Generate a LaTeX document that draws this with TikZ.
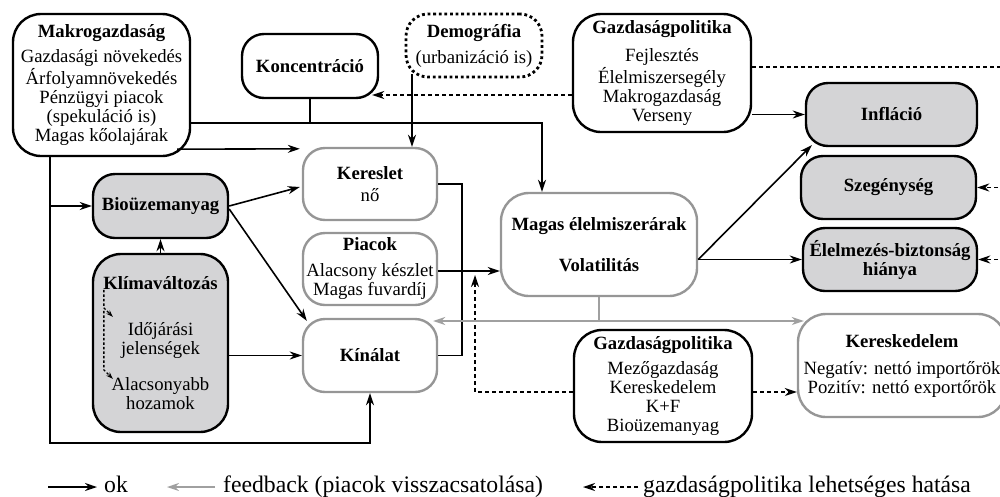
\documentclass[tikz,border=0pt]{standalone}
\usepackage{fontspec}
\setmainfont{Liberation Serif}
\usetikzlibrary{arrows.meta,calc}
\definecolor{fillgray}{RGB}{212,212,214}
\definecolor{bordergray}{RGB}{150,150,150}
\definecolor{linegray}{RGB}{160,160,160}
\newcommand{\fsbox}{\fontsize{18.7}{19}\selectfont}
\newcommand{\fsleg}{\fontsize{23.7}{26}\selectfont}
\tikzset{
 box/.style={line width=2.4pt, rounded corners=22pt, align=center, inner sep=0pt, font=\fsbox},
 bbox/.style={box, draw=black},
 gbox/.style={box, draw=bordergray},
 fbox/.style={box, draw=black, fill=fillgray},
 dbox/.style={box, draw=black, line width=2.8pt, dash pattern=on 2.8pt off 2.8pt},
 conn/.style={line width=1.6pt},
 arr/.style={conn, -{Stealth[length=12pt,width=8pt]}},
 dline/.style={conn, dash pattern=on 4pt off 3pt},
 darr/.style={dline, -{Stealth[length=12pt,width=8pt]}},
 sdarr/.style={line width=1.4pt, dash pattern=on 2.5pt off 2pt, -{Stealth[length=7pt,width=5pt]}},
 gline/.style={line width=1.6pt, draw=linegray},
 garr/.style={gline, -{Stealth[length=12pt,width=8pt]}},
 legend/.style={inner sep=0pt, font=\fsleg},
}
\begin{document}
\begin{tikzpicture}[x=1pt,y=-1pt]
\useasboundingbox (0,0) rectangle (1000,496);
\clip (0,0) rectangle (1000,496);

% nodes
\node[bbox, rounded corners=28pt, minimum width=177pt, minimum height=142pt] (makro) at (101.5,85)
 {\textbf{Makrogazdaság}\\[6pt]Gazdasági növekedés\\Árfolyamnövekedés\\Pénzügyi piacok\\(spekuláció is)\\Magas kőolajárak};
\node[bbox, minimum width=136pt, minimum height=64pt] (konc) at (310,66) {\textbf{Koncentráció}};
\node[dbox, minimum width=136pt, minimum height=63pt] (demo) at (474,45.5) {\textbf{Demográfia}\\[7pt](urbanizáció is)};
\node[bbox, rounded corners=28pt, minimum width=178pt, minimum height=118pt] (gp1) at (662,73)
 {\textbf{Gazdaságpolitika}\\[9pt]Fejlesztés\\Élelmiszersegély\\Makrogazdaság\\Verseny};
\node[fbox, minimum width=171pt, minimum height=63pt] (infl) at (891.5,114.5) {\textbf{Infláció}};
\node[fbox, minimum width=175pt, minimum height=63pt] (szeg) at (888.5,187.5) {\textbf{Szegénység}};
\node[fbox, minimum width=174pt, minimum height=63pt] (elel) at (890,259.5) {\textbf{Élelmezés-biztonság}\\\textbf{hiánya}};
\node[gbox, minimum width=134pt, minimum height=72pt] (keres) at (370,184) {\textbf{Kereslet}\\[3pt]nő};
\node[gbox, minimum width=134pt, minimum height=72pt] (piac) at (370,269) {\textbf{Piacok}\\[7pt]Alacsony készlet\\Magas fuvardíj};
\node[gbox, minimum width=134pt, minimum height=73pt] (kinal) at (370,355.5) {\textbf{Kínálat}};
\node[gbox, rounded corners=28pt, minimum width=196pt, minimum height=103pt] (magas) at (599,244.5) {\textbf{Magas élelmiszerárak}\\[22pt]\textbf{Volatilitás}};
\node[fbox, minimum width=135pt, minimum height=64pt] (bio) at (160.5,206) {\textbf{Bioüzemanyag}};
\node[fbox, rounded corners=28pt, minimum width=135pt, minimum height=178pt] (klima) at (160.5,343)
 {\textbf{Klímaváltozás}\\[27pt]Időjárási\\jelenségek\\[17pt]Alacsonyabb\\hozamok};
\node[bbox, rounded corners=28pt, minimum width=178pt, minimum height=112pt] (gp2) at (663,386)
 {\textbf{Gazdaságpolitika}\\[6pt]Mezőgazdaság\\Kereskedelem\\K+F\\Bioüzemanyag};
\node[gbox, rounded corners=28pt, minimum width=208pt, minimum height=103pt] (keresk) at (902,365.5)
 {\textbf{Kereskedelem}\\[8pt]Negatív: nettó importőrök\\Pozitív: nettó exportőrök};

% coordinates for bends
\coordinate (j1) at (542,123);
\coordinate (c1) at (50,443);
\coordinate (d1) at (412,74);
\coordinate (r1) at (1012,67);
\coordinate (b1) at (462,0);
\coordinate (b2) at (475,0);
\coordinate (g1) at (599,321);

% Makrogazdasag -> Magas elelmiszerarak (with Koncentracio joining)
\draw[arr] (makro.east |- j1) -- (j1) -- (j1 |- magas.north);
\draw[conn] (konc.south) -- (konc.south |- j1);
% Makrogazdasag -> Kereslet
\draw[arr] ([shift={(-14,-8)}]makro.south east) -- ([shift={(-2,2)}]keres.north west);
% Makrogazdasag -> Bio, Kinalat
\draw[arr] (makro.south -| c1) -- (c1) -| (kinal.south);
\draw[arr] (c1 |- bio.west) -- (bio.west);
% Demografia -> Kereslet
\draw[arr] (d1) -- (d1 |- keres.north);
% Gazdasagpolitika (top) -> Koncentracio
\draw[darr] ([shift={(0,22)}]gp1.west) -- ([shift={(-7,29)}]konc.east);
% Gazdasagpolitika (top) -> right side
\draw[dline] (gp1.east |- r1) -- (r1) -- (r1 |- elel.east);
\draw[darr] (r1 |- szeg.east) -- (szeg.east);
\draw[darr] (r1 |- elel.east) -- (elel.east);
% Gazdasagpolitika (top) -> Inflacio
\draw[arr] (gp1.east |- infl.west) -- (infl.west);
% Magas -> Inflacio, Elelmezes
\draw[arr] (magas.east |- elel.west) -- ([shift={(7,-2)}]infl.south west);
\draw[arr] (magas.east |- elel.west) -- (elel.west);
% Kereslet/Kinalat bracket, Piacok -> Magas
\draw[conn] (keres.east) -- (keres.east -| b1) -- (kinal.east -| b1) -- (kinal.east);
\draw[arr] ([shift={(0,2)}]piac.east) -- ([shift={(0,2)}]piac.east -| magas.west);
% Gazdasagpolitika (bottom) -> market line
\draw[darr] ([shift={(0,6)}]gp2.west) -| ([shift={(0,6)}]piac.east -| b2);
% feedback
\draw[gline] (magas.south) -- (g1);
\draw[garr] (g1) -- ([shift={(-5,0)}]g1 -| kinal.east);
\draw[garr] (g1) -- ([shift={(7,0)}]g1 -| keresk.west);
% Gazdasagpolitika (bottom) -> Kereskedelem
\draw[darr] ([shift={(0,6)}]gp2.east) -- ([shift={(0,6)}]gp2.east -| keresk.west);
% Bio -> Kereslet, Kinalat
\draw[arr] (bio.east) -- ([shift={(-2,3)}]keres.west);
\draw[arr] ([shift={(0,3)}]bio.east) -- ([shift={(5,3)}]kinal.north west);
% Klima -> Bio, Kinalat
\draw[arr] (klima.north) -- (bio.south);
\draw[arr] (klima.east |- kinal.west) -- (kinal.west);
% inside Klimavaltozas
\draw[sdarr] ($(klima.north west)+(12,37)$) -- ($(klima.north west)+(12,55)$) -- ($(klima.north west)+(21,64)$);
\draw[sdarr] ($(klima.north west)+(12,58)$) -- ($(klima.north west)+(12,117)$) -- ($(klima.north west)+(21,126)$);

% legend
\coordinate (la1) at (48,487);
\coordinate (la2) at (97,487);
\coordinate (lb1) at (215,487);
\coordinate (lb2) at (167,487);
\coordinate (lc1) at (638,487);
\coordinate (lc2) at (583,487);
\draw[arr] (la1) -- (la2);
\draw[garr] (lb1) -- (lb2);
\draw[darr] (lc1) -- (lc2);
\node[legend, anchor=base west] (lok) at (104,492) {ok};
\node[legend, anchor=base west] (lfb) at (223,492) {feedback (piacok visszacsatolása)};
\node[legend, anchor=base west] (lgp) at (643,492) {gazdaságpolitika lehetséges hatása};
\end{tikzpicture}
\end{document}
